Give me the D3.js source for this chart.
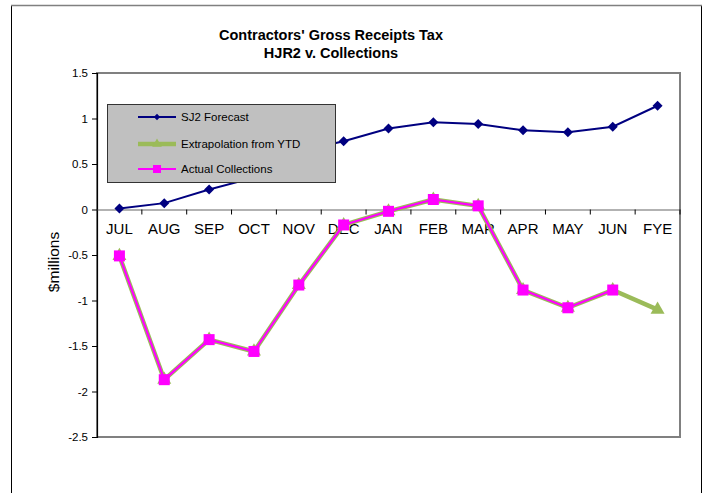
<!DOCTYPE html>
<html>
<head>
<meta charset="utf-8">
<script src="https://cdn.jsdelivr.net/npm/d3@7"></script>
<style>
  body { margin: 0; background: #fff; }
  svg { display: block; font-family: Arial, "Liberation Sans", sans-serif; }
</style>
</head>
<body>
<svg id="chart" width="707" height="493"></svg>
<script>
const categories = ["JUL","AUG","SEP","OCT","NOV","DEC","JAN","FEB","MAR","APR","MAY","JUN","FYE"];
const sj2Forecast = [0.01, 0.07, 0.22, 0.35, 0.64, 0.75, 0.89, 0.96, 0.94, 0.87, 0.85, 0.91, 1.14];
const extrapolation = [-0.51, -1.87, -1.43, -1.56, -0.83, -0.17, -0.02, 0.11, 0.04, -0.885, -1.08, -0.885, -1.10];
const actualCollections = [-0.51, -1.87, -1.43, -1.56, -0.83, -0.17, -0.02, 0.11, 0.04, -0.885, -1.08, -0.885, null];
const yTicks = [1.5, 1, 0.5, 0, -0.5, -1, -1.5, -2, -2.5];
const seriesNames = ["SJ2 Forecast", "Extrapolation from YTD", "Actual Collections"];
const titleLines = ["Contractors' Gross Receipts Tax", "HJR2 v. Collections"];

const svg = d3.select("#chart");
const plot = {left: 97, right: 680, top: 73, bottom: 437};

const x = d3.scaleBand().domain(categories).range([plot.left, plot.right]).padding(0);
const y = d3.scaleLinear().domain([-2.5, 1.5]).range([plot.bottom, plot.top]);
const cx = c => x(c) + x.bandwidth() / 2;

// outer chart border
svg.append("rect").attr("x", 11.5).attr("y", 5.5).attr("width", 690).attr("height", 520)
  .attr("fill", "#fff").attr("stroke", "#000").attr("stroke-width", 1);
svg.append("line").attr("x1", 11).attr("x2", 702).attr("y1", 5.5).attr("y2", 5.5)
  .attr("stroke", "#808080").attr("stroke-width", 1.5);

// title
svg.append("g").selectAll("text").data(titleLines).join("text")
  .attr("x", 331).attr("y", (d, i) => 40 + i * 17.5)
  .attr("text-anchor", "middle").attr("font-size", "14.5px").attr("font-weight", "bold")
  .attr("fill", "#000").text(d => d);

// plot frame
svg.append("rect").attr("x", plot.left).attr("y", plot.top)
  .attr("width", plot.right - plot.left).attr("height", plot.bottom - plot.top)
  .attr("fill", "#fff").attr("stroke", "#808080").attr("stroke-width", 2);

// y axis
const yAxis = svg.append("g").attr("transform", `translate(${plot.left},0)`)
  .call(d3.axisLeft(y).tickValues(yTicks).tickSize(5).tickPadding(4).tickFormat(d => String(d)));
yAxis.select(".domain").attr("stroke", "#000").attr("stroke-width", 1.2);
yAxis.selectAll(".tick line").attr("stroke", "#000");
yAxis.selectAll("text").attr("font-size", "11.5px").attr("font-family", "Arial, 'Liberation Sans', sans-serif").attr("fill", "#000");

// x axis at zero
const xAxis = svg.append("g").attr("transform", `translate(0,${y(0)})`)
  .call(d3.axisBottom(x).tickSize(0).tickPadding(14));
xAxis.select(".domain").attr("stroke", "#666").attr("stroke-width", 1.2);
xAxis.selectAll("text").attr("font-size", "15px").attr("font-family", "Arial, 'Liberation Sans', sans-serif").attr("fill", "#000");
// category boundary ticks
const bounds = categories.slice(1).map(c => x(c)).concat([plot.right]);
svg.append("g").selectAll("line").data(bounds).join("line")
  .attr("x1", d => d).attr("x2", d => d)
  .attr("y1", y(0)).attr("y2", y(0) + 5)
  .attr("stroke", "#000").attr("stroke-width", 1);

// y label
svg.append("text").attr("transform", `translate(53,262) rotate(-90)`)
  .attr("text-anchor", "middle").attr("dominant-baseline", "central")
  .attr("font-size", "15.5px").attr("fill", "#000").text("$millions");

const navy = "#000080", green = "#9BBB59", magenta = "#FF00FF";
const diamondPath = d3.symbol(d3.symbolSquare, 50)();
const trianglePath = d3.symbol(d3.symbolTriangle, 85)();
const squarePath = d3.symbol(d3.symbolSquare, 121)();
const legDiamond = d3.symbol(d3.symbolSquare, 20)();
const legTriangle = d3.symbol(d3.symbolTriangle, 40)();
const legSquare = d3.symbol(d3.symbolSquare, 64)();

function line(vals) {
  return d3.line().defined(d => d.v !== null).x(d => cx(d.c)).y(d => y(d.v))(
    categories.map((c, i) => ({c, v: vals[i]})));
}
function pts(vals) {
  return categories.map((c, i) => ({c, v: vals[i]})).filter(d => d.v !== null);
}

// Extrapolation
svg.append("path").attr("d", line(extrapolation)).attr("fill", "none")
  .attr("stroke", green).attr("stroke-width", 4.5).attr("stroke-linejoin", "round");
svg.append("g").selectAll("path").data(pts(extrapolation)).join("path")
  .attr("d", trianglePath).attr("transform", d => `translate(${cx(d.c)},${y(d.v)})`)
  .attr("fill", green);

// Actual
svg.append("path").attr("d", line(actualCollections)).attr("fill", "none")
  .attr("stroke", magenta).attr("stroke-width", 2.2).attr("stroke-linejoin", "round");
svg.append("g").selectAll("path").data(pts(actualCollections)).join("path")
  .attr("d", squarePath).attr("transform", d => `translate(${cx(d.c)},${y(d.v)})`)
  .attr("fill", magenta);

// SJ2
svg.append("path").attr("d", line(sj2Forecast)).attr("fill", "none")
  .attr("stroke", navy).attr("stroke-width", 2);
svg.append("g").selectAll("path").data(pts(sj2Forecast)).join("path")
  .attr("d", diamondPath).attr("transform", d => `translate(${cx(d.c)},${y(d.v)}) rotate(45)`)
  .attr("fill", navy);

// legend
const lg = svg.append("g");
lg.append("rect").attr("x", 107.5).attr("y", 104.5).attr("width", 228).attr("height", 78)
  .attr("fill", "#C0C0C0").attr("stroke", "#333").attr("stroke-width", 1);
const legendRows = [117, 144, 169];
const legendStyles = [
  {color: navy, w: 2, m: legDiamond, rot: 45},
  {color: green, w: 4.5, m: legTriangle, rot: 0},
  {color: magenta, w: 2, m: legSquare, rot: 0}
];
seriesNames.forEach((name, i) => {
  const yy = legendRows[i], st = legendStyles[i];
  lg.append("line").attr("x1", 138).attr("x2", 176).attr("y1", yy).attr("y2", yy)
    .attr("stroke", st.color).attr("stroke-width", st.w);
  lg.append("path").attr("d", st.m).attr("transform", `translate(157,${yy}) rotate(${st.rot})`)
    .attr("fill", st.color);
  lg.append("text").attr("x", 181).attr("y", yy).attr("dominant-baseline", "central")
    .attr("font-size", "11.5px").attr("fill", "#000").text(name);
});
</script>
</body>
</html>
